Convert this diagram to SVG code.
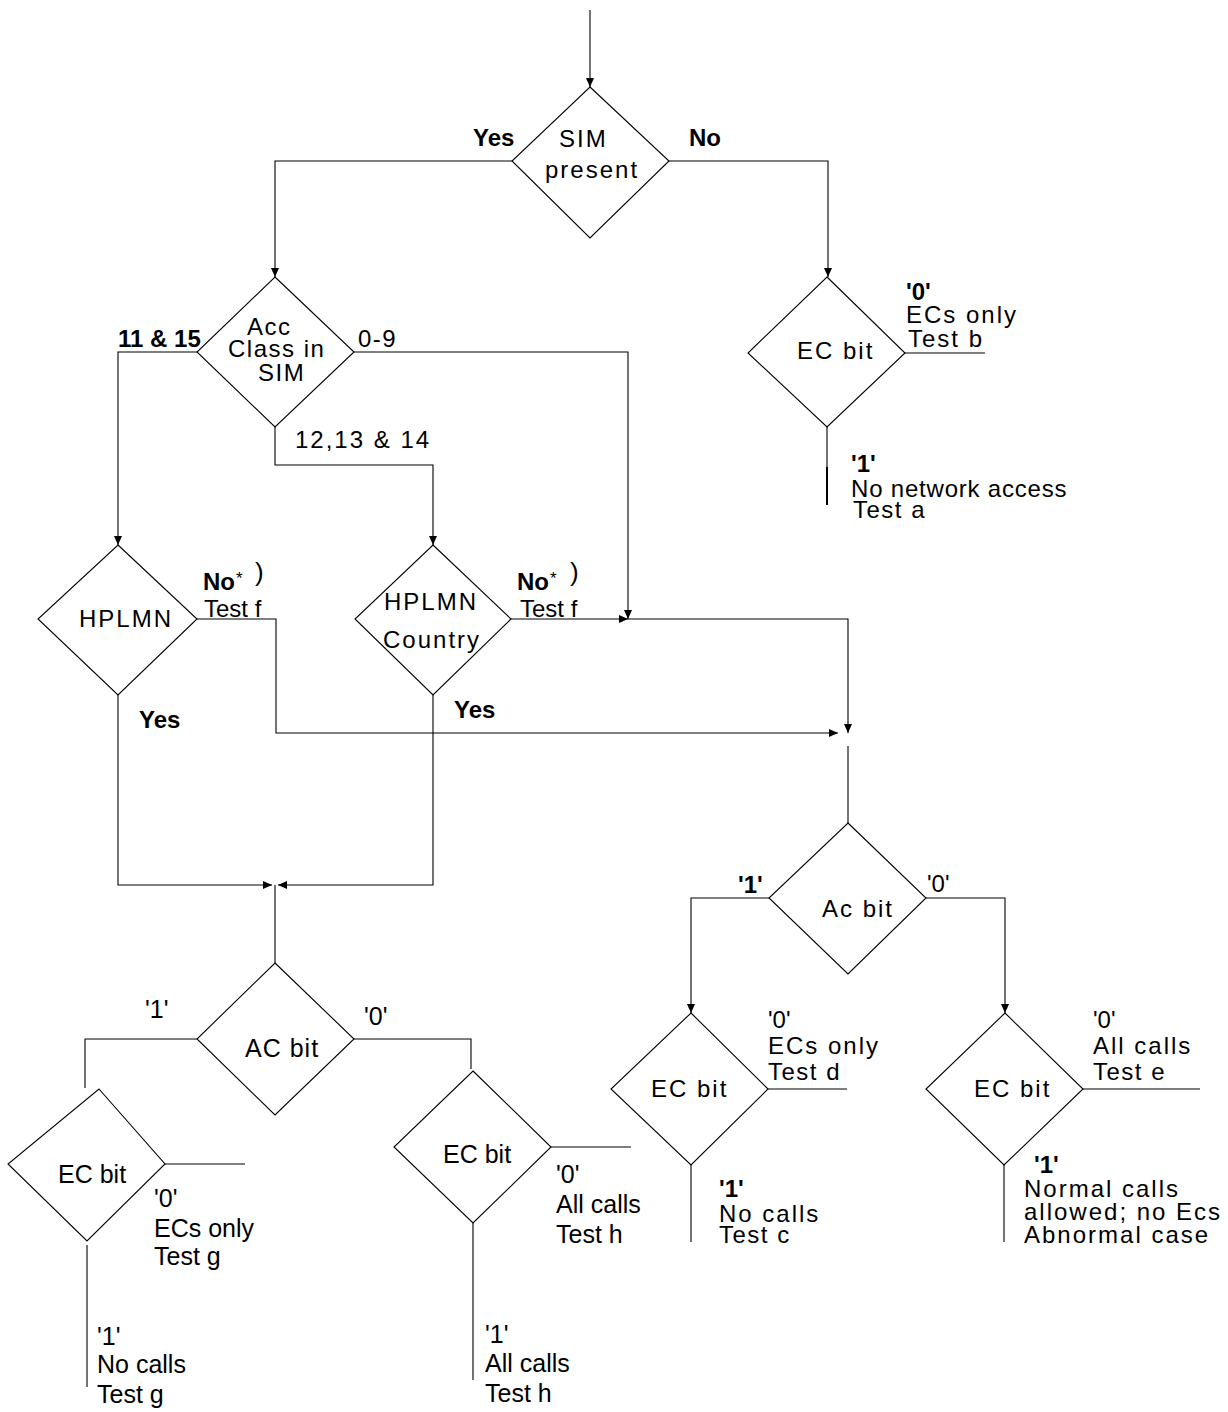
<svg xmlns="http://www.w3.org/2000/svg" width="1228" height="1412" viewBox="0 0 1228 1412">
<defs>
<marker id="arr" markerUnits="userSpaceOnUse" markerWidth="10" markerHeight="8" refX="9" refY="4" orient="auto"><path d="M0,0 L9,4 L0,8 Z" fill="#000"/></marker>
<style>
.d{fill:#fff;stroke:#000;stroke-width:1.1}
.c{fill:none;stroke:#000;stroke-width:1.1}
.a{marker-end:url(#arr)}
text{font-family:"Liberation Sans",Arial,sans-serif;font-size:24px;fill:#000}
.s{letter-spacing:2px}
.m{letter-spacing:1.5px}
.b{font-weight:bold}
.n{font-size:25px;letter-spacing:0}
.st{font-size:17px}
.p{font-size:26px}
</style>
</defs>
<rect width="1228" height="1412" fill="#fff"/>
<g id="connectors">
<path class="c a" d="M590,10 V87"/>
<path class="c a" d="M512,161 H275 V277"/>
<path class="c a" d="M669,161 H828 V277"/>
<path class="c a" d="M197,352 H118 V545"/>
<path class="c a" d="M354,352 H628 V619"/>
<path class="c a" d="M275,427 V465 H433 V545"/>
<path class="c a" d="M197,619 H276 V733 H838"/>
<path class="c a" d="M511,619 H628"/>
<path class="c a" d="M628,619 H848 V733"/>
<path class="c" d="M848,746 V823"/>
<path class="c a" d="M118,695 V885 H272"/>
<path class="c a" d="M433,695 V885 H278"/>
<path class="c" d="M275,885 V963"/>
<path class="c a" d="M769,898 H691 V1013"/>
<path class="c a" d="M926,898 H1005 V1013"/>
<path class="c" d="M905,353 H985"/>
<path class="c" d="M827,427 V505"/>
<path class="c" d="M827,467 V505" style="stroke-width:2"/>
<path class="c" d="M197,1039 H85 V1088"/>
<path class="c" d="M354,1039 H471 V1069"/>
<path class="c" d="M165,1164 H245"/>
<path class="c" d="M87,1245 V1387"/>
<path class="c" d="M551,1147 H631"/>
<path class="c" d="M473,1223 V1380"/>
<path class="c" d="M768,1089 H847"/>
<path class="c" d="M691,1165 V1242"/>
<path class="c" d="M1083,1089 H1200"/>
<path class="c" d="M1004,1165 V1242"/>
</g>
<g id="sim-present">
<polygon class="d" points="590,87 669,161 590,238 512,161"/>
<text class="s" x="559" y="147">SIM</text>
<text class="s" x="545" y="178">present</text>
<text class="b" x="473" y="146">Yes</text>
<text class="b" x="689" y="146">No</text>
</g>
<g id="acc-class">
<polygon class="d" points="275,277 354,352 275,427 197,352"/>
<text class="m" x="247" y="335">Acc</text>
<text class="m" x="228" y="357">Class in</text>
<text class="m" x="258" y="381">SIM</text>
<text class="b" x="118" y="347">11 &amp; 15</text>
<text class="m" x="358" y="347">0-9</text>
<text class="s" x="295" y="448">12,13 &amp; 14</text>
</g>
<g id="ec-bit-top">
<polygon class="d" points="827,277 905,353 827,427 748,353"/>
<text class="s" x="797" y="359">EC bit</text>
<text class="b" x="906" y="300">'0'</text>
<text class="s" x="906" y="323">ECs only</text>
<text class="s" x="908" y="347">Test b</text>
<text class="b" x="851" y="472">'1'</text>
<text style="letter-spacing:0.8px" x="851" y="497">No network access</text>
<text class="m" x="853" y="518">Test a</text>
</g>
<g id="hplmn">
<polygon class="d" points="118,545 197,619 118,695 38,619"/>
<text class="s" x="79" y="627">HPLMN</text>
<text class="b" x="203" y="590">No</text>
<text class="st" x="236" y="584">*</text>
<text class="p" x="255" y="581">)</text>
<text x="204" y="617">Test f</text>
<text class="b" x="139" y="728">Yes</text>
</g>
<g id="hplmn-country">
<polygon class="d" points="433,545 511,619 433,695 355,619"/>
<text class="s" x="384" y="610">HPLMN</text>
<text class="s" x="383" y="648">Country</text>
<text class="b" x="517" y="590">No</text>
<text class="st" x="550" y="584">*</text>
<text class="p" x="570" y="581">)</text>
<text x="520" y="617">Test f</text>
<text class="b" x="454" y="718">Yes</text>
</g>
<g id="ac-bit-right">
<polygon class="d" points="848,823 926,898 848,974 769,898"/>
<text class="s" x="822" y="917">Ac bit</text>
<text class="b" x="738" y="893">'1'</text>
<text x="927" y="892">'0'</text>
</g>
<g id="ec-bit-d">
<polygon class="d" points="691,1013 768,1089 691,1165 611,1089"/>
<text class="s" x="651" y="1097">EC bit</text>
<text x="768" y="1028">'0'</text>
<text class="s" x="768" y="1054">ECs only</text>
<text class="m" x="768" y="1080">Test d</text>
<text class="b" x="719" y="1197">'1'</text>
<text class="s" x="719" y="1222">No calls</text>
<text class="m" x="719" y="1243">Test c</text>
</g>
<g id="ec-bit-e">
<polygon class="d" points="1005,1013 1083,1089 1004,1165 926,1089"/>
<text class="s" x="974" y="1097">EC bit</text>
<text x="1093" y="1028">'0'</text>
<text class="s" x="1093" y="1054">All calls</text>
<text class="m" x="1093" y="1080">Test e</text>
<text class="b" x="1034" y="1173">'1'</text>
<text class="s" x="1024" y="1197">Normal calls</text>
<text class="s" x="1024" y="1220">allowed; no Ecs</text>
<text class="s" x="1024" y="1243">Abnormal case</text>
</g>
<g id="ac-bit-left">
<polygon class="d" points="275,963 354,1039 275,1115 197,1039"/>
<text class="n" x="245" y="1057" style="letter-spacing:1px">AC bit</text>
<text class="n" x="145" y="1018">'1'</text>
<text class="n" x="364" y="1025">'0'</text>
</g>
<g id="ec-bit-g">
<polygon class="d" points="99,1089 165,1164 87,1241 8,1164"/>
<text class="n" x="58" y="1183">EC bit</text>
<text class="n" x="154" y="1207">'0'</text>
<text class="n" x="154" y="1237">ECs only</text>
<text class="n" x="154" y="1265">Test g</text>
<text class="n" x="97" y="1345">'1'</text>
<text class="n" x="97" y="1373">No calls</text>
<text class="n" x="97" y="1403">Test g</text>
</g>
<g id="ec-bit-h">
<polygon class="d" points="473,1071 551,1147 473,1223 394,1147"/>
<text class="n" x="443" y="1163">EC bit</text>
<text class="n" x="556" y="1183">'0'</text>
<text class="n" x="556" y="1213">All calls</text>
<text class="n" x="556" y="1243">Test h</text>
<text class="n" x="485" y="1343">'1'</text>
<text class="n" x="485" y="1372">All calls</text>
<text class="n" x="485" y="1402">Test h</text>
</g>
</svg>
